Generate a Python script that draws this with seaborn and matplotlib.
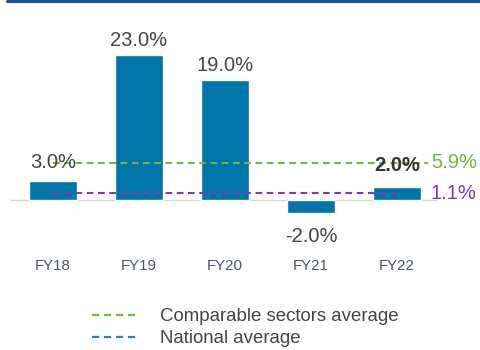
import matplotlib
matplotlib.use("Agg")
import matplotlib.pyplot as plt
from matplotlib.lines import Line2D
import seaborn as sns
import pandas as pd

# Data
years = ["FY18", "FY19", "FY20", "FY21", "FY22"]
growth = [3.0, 23.0, 19.0, -2.0, 2.0]
sector_avg = 5.9
national_avg = 1.1
legend_labels = ["Comparable sectors average", "National average"]

# Style
BAR = "#0075a9"
GREEN = "#79b340"
PURPLE = "#7b3cae"
LEGEND_BLUE = "#1f86c8"
TOP_RULE = "#1b4f9e"
TEXT = "#444444"
TICK = "#4a5566"

sns.set_theme(style="white")
plt.rcParams["font.family"] = ["Liberation Sans", "DejaVu Sans"]

W, H, DPI = 480, 350, 100
fig = plt.figure(figsize=(W / DPI, H / DPI), dpi=DPI)
fig.patch.set_facecolor("white")

# axes occupies pixel rows 30..250; zero line at pixel 200, 6.3 px per unit
px_unit = 6.3
ax_top, ax_bot, zero_px = 30, 250, 200
ax = fig.add_axes([0, (H - ax_bot) / H, 1, (ax_bot - ax_top) / H])

df = pd.DataFrame({"year": years, "growth": growth})
sns.barplot(data=df, x="year", y="growth", color=BAR, saturation=1,
            width=48 / 86, ax=ax, zorder=2)

step = 86.0
first_center = 53.0
ax.set_xlim(-first_center / step, (W - first_center) / step)
ax.set_ylim(-(ax_bot - zero_px) / px_unit, (zero_px - ax_top) / px_unit)

def px_x(p):
    return (p - first_center) / step

# zero line
ax.hlines(0, px_x(10), px_x(437), color="#d3d8df", lw=1.0, zorder=1)

dash = (0, (3.2, 2.2))
ax.hlines(sector_avg, 0, px_x(428), color=GREEN, lw=1.5, linestyles=[dash], zorder=3)
ax.hlines(national_avg, 0, len(years) - 1, color=PURPLE, lw=1.5, linestyles=[dash], zorder=3)

ax.text(px_x(431), sector_avg, f"{sector_avg:.1f}%", color=GREEN, fontsize=14.5,
        ha="left", va="center", zorder=4)
ax.text(px_x(431), national_avg, f"{national_avg:.1f}%", color=PURPLE, fontsize=14.5,
        ha="left", va="center", zorder=4)

# value labels
gaps = [9, 5, 5, 14, 12]
for i, (v, g) in enumerate(zip(growth, gaps)):
    last = i == len(growth) - 1
    ax.annotate(f"{v:.1f}%", (i, v), xytext=(0, (g if v >= 0 else -g) * 0.72),
                textcoords="offset points", ha="center",
                va="bottom" if v >= 0 else "top",
                fontsize=14.5, color="#333333" if last else TEXT,
                fontweight="bold" if last else "normal", zorder=5)

ax.set_xlabel("")
ax.set_ylabel("")
ax.set_yticks([])
ax.tick_params(axis="x", length=0, pad=6.5, labelsize=10.8, labelcolor=TICK)
for s in ax.spines.values():
    s.set_visible(False)
ax.set_facecolor("none")

# top rule
fig.add_artist(Line2D([7 / W, 1], [1 - 1 / H, 1 - 1 / H], transform=fig.transFigure,
                      color=TOP_RULE, lw=2.2))

handles = [Line2D([0], [0], color=GREEN, lw=1.6, linestyle=dash),
           Line2D([0], [0], color=LEGEND_BLUE, lw=1.6, linestyle=dash)]
fig.legend(handles, legend_labels, loc="upper left",
           bbox_to_anchor=(92 / W, 1 - 308 / H), frameon=False, fontsize=13.4,
           handlelength=2.4, handletextpad=1.25, labelspacing=0.28,
           borderpad=0, borderaxespad=0, labelcolor=TEXT)

fig.savefig("out.png", dpi=DPI, facecolor="white")
